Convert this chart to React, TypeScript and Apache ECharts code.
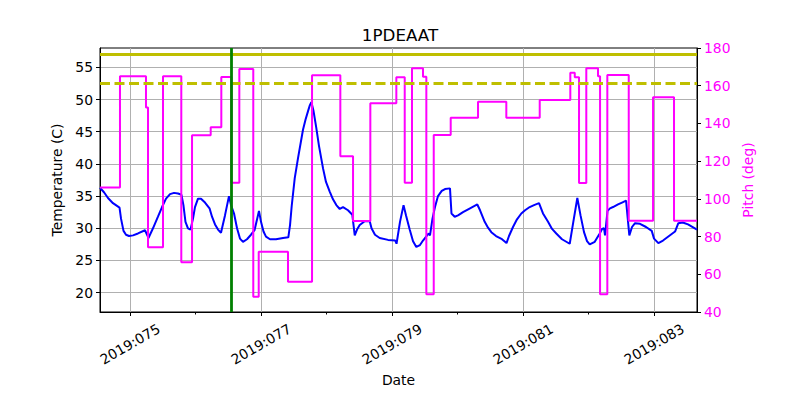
import React, { useEffect, useRef } from "react";
import * as echarts from "echarts";

// Temperature trace: day of year 2019 (fractional) and temperature in C
const tempDay = [
  74.542, 74.603, 74.664, 74.74, 74.84, 74.863, 74.901, 74.939, 74.985, 75.046,
  75.122, 75.229, 75.282, 75.351, 75.427, 75.489, 75.55, 75.611, 75.672, 75.733,
  75.786, 75.817, 75.847, 75.885, 75.924, 75.962, 75.992, 76.038, 76.084, 76.145,
  76.214, 76.252, 76.298, 76.344, 76.389, 76.45, 76.511, 76.542, 76.588, 76.634,
  76.679, 76.725, 76.786, 76.847, 76.901, 76.969, 77.0, 77.038, 77.076, 77.137,
  77.229, 77.336, 77.417, 77.443, 77.469, 77.515, 77.565, 77.641, 77.68, 77.718, 77.745, 77.768,
  77.802, 77.844, 77.885, 77.947, 77.992, 78.049, 78.099, 78.15, 78.202, 78.252,
  78.328, 78.394, 78.431, 78.466, 78.507, 78.583, 78.66, 78.687, 78.74, 78.812,
  78.939, 79.05, 79.069, 79.122, 79.176, 79.214, 79.27, 79.321, 79.371, 79.427,
  79.473, 79.56, 79.58, 79.618, 79.656, 79.702, 79.759, 79.809, 79.885, 79.908,
  79.957, 80.008, 80.084, 80.191, 80.302, 80.344, 80.415, 80.466, 80.516, 80.588,
  80.679, 80.748, 80.786, 80.847, 80.908, 80.974, 81.031, 81.102, 81.168, 81.244,
  81.305, 81.382, 81.443, 81.508, 81.595, 81.713, 81.771, 81.829, 81.878, 81.931,
  81.977, 82.018, 82.095, 82.171, 82.206, 82.237, 82.252, 82.29, 82.328, 82.374,
  82.45, 82.511, 82.573, 82.623, 82.664, 82.71, 82.786, 82.878, 82.965, 83.0,
  83.066, 83.137, 83.229, 83.321, 83.371, 83.438, 83.519, 83.656,
];
const temperature = [
  36.3, 35.6, 34.7, 33.9, 33.2, 31.5, 29.6, 29.0, 28.8, 28.9,
  29.2, 29.7, 28.5, 30.0, 31.8, 33.3, 34.6, 35.3, 35.5, 35.4,
  35.2, 33.5, 31.0, 30.0, 29.8, 31.5, 33.3, 34.6, 34.6, 34.0,
  33.1, 31.8, 30.6, 29.8, 29.3, 32.0, 35.0, 33.6, 32.3, 30.0,
  28.4, 27.9, 28.3, 29.0, 29.7, 32.7, 31.0, 29.5, 28.7, 28.3,
  28.3, 28.5, 28.6, 30.5, 33.5, 37.8, 40.9, 45.3, 46.9, 48.2, 49.1, 49.6,
  48.2, 45.6, 42.8, 39.3, 37.2, 35.7, 34.5, 33.6, 33.0, 33.3,
  32.8, 32.1, 28.9, 29.8, 30.5, 31.1, 31.1, 30.0, 29.0, 28.5,
  28.2, 28.1, 27.6, 31.0, 33.6, 32.0, 29.8, 28.0, 27.1, 27.4,
  28.1, 29.2, 28.9, 31.5, 33.3, 35.0, 35.8, 36.1, 36.2, 32.3,
  31.8, 32.0, 32.5, 33.1, 33.7, 32.8, 31.0, 30.1, 29.4, 28.8,
  28.3, 27.7, 28.8, 30.2, 31.4, 32.3, 32.8, 33.3, 33.6, 33.9,
  32.3, 31.0, 29.9, 29.2, 28.3, 27.6, 31.2, 34.7, 32.0, 29.4,
  28.0, 27.5, 27.9, 29.2, 29.9, 30.0, 28.9, 32.7, 33.1, 33.3,
  33.7, 34.0, 34.3, 28.9, 30.2, 30.8, 30.7, 30.2, 29.6, 28.4,
  27.7, 28.1, 28.8, 29.5, 30.8, 30.9, 30.6, 29.8,
];

// Pitch trace: each value holds until the next change time
const pitchDay = [
  74.542, 74.847, 75.244, 75.275, 75.504, 75.783, 75.947, 76.232, 76.394, 76.547,
  76.669, 76.882, 76.965, 77.412, 77.779, 78.211, 78.405, 78.669, 79.066, 79.194,
  79.305, 79.473, 79.524, 79.637, 79.896, 80.313, 80.745, 81.255, 81.722, 81.79,
  81.855, 81.966, 82.145, 82.176, 82.287, 82.614, 82.985, 83.305, 83.656,
];
const pitch = [
  106, 165, 148.4, 74.3, 165, 66.4, 133.7, 138, 164.6, 108.6,
  168.9, 48.1, 72, 56.1, 165.5, 122.6, 88.3, 150.7, 164.5, 108.6,
  169.2, 164.8, 49.4, 133.9, 143, 151.5, 143, 152.4, 166.9, 164.5,
  108.4, 169.2, 165, 49.4, 165.7, 88.4, 153.9, 88.4, 88.4,
];

const tempTicks = [20, 25, 30, 35, 40, 45, 50, 55];
const dateTicks = [75, 77, 79, 81, 83];
const minorDateTicks = [76, 78, 80, 82];
const planningLimit = 57;
const cautionLimit = 52.5;
const eventDay = 76.547;

const FONT = "DejaVu Sans";

export default function App() {
  const ref = useRef<HTMLDivElement>(null);

  useEffect(() => {
    if (!ref.current) return;
    const chart = echarts.init(ref.current, undefined, { renderer: "svg" });
    const xMin = 74.542;
    const xMax = 83.656;
    const fmt = (v: number) => "2019:" + String(Math.round(v)).padStart(3, "0");

    chart.setOption({
      animation: false,
      backgroundColor: "#ffffff",
      textStyle: { fontFamily: FONT },
      title: {
        text: "1PDEAAT",
        left: "center",
        top: 21,
        textStyle: { fontFamily: FONT, fontSize: 16.7, fontWeight: "normal", color: "#000" },
      },
      grid: {
        left: 100,
        right: 103,
        top: 48,
        bottom: 88,
        show: true,
        borderColor: "#000",
        borderWidth: 1,
        backgroundColor: "transparent",
      },
      xAxis: [
        {
          type: "value",
          min: xMin,
          max: xMax,
          name: "Date",
          nameLocation: "middle",
          nameGap: 60,
          nameTextStyle: { fontFamily: FONT, fontSize: 13.9, color: "#000" },
          axisLine: { show: true, onZero: false, lineStyle: { color: "#000", width: 1 } },
          axisTick: { show: true, customValues: dateTicks, length: 4, lineStyle: { color: "#000" } },
          axisLabel: {
            customValues: dateTicks,
            formatter: fmt,
            rotate: 30,
            align: "center",
            verticalAlign: "middle",
            margin: 32,
            fontFamily: FONT,
            fontSize: 13.9,
            color: "#000",
          },
          splitLine: { show: true, lineStyle: { color: "#b0b0b0", width: 1 } },
        },
        {
          type: "value",
          min: xMin,
          max: xMax,
          position: "bottom",
          axisLine: { show: false },
          axisTick: { show: true, customValues: minorDateTicks, length: 2.5, lineStyle: { color: "#000" } },
          axisLabel: { show: false },
          splitLine: { show: false },
        },
      ],
      yAxis: [
        {
          type: "value",
          min: 17,
          max: 58,
          position: "left",
          name: "Temperature (C)",
          nameLocation: "middle",
          nameRotate: 90,
          nameGap: 33,
          nameTextStyle: { fontFamily: FONT, fontSize: 13.9, color: "#000" },
          axisLine: { show: true, onZero: false, lineStyle: { color: "#000", width: 1 } },
          axisTick: { show: true, customValues: tempTicks, length: 4, lineStyle: { color: "#000" } },
          axisLabel: { customValues: tempTicks, margin: 7, fontFamily: FONT, fontSize: 13.9, color: "#000" },
          splitLine: { show: true, lineStyle: { color: "#b0b0b0", width: 1 } },
        },
        {
          type: "value",
          min: 40,
          max: 180,
          interval: 20,
          position: "right",
          name: "Pitch (deg)",
          nameLocation: "middle",
          nameRotate: 90,
          nameGap: 41,
          nameTextStyle: { fontFamily: FONT, fontSize: 13.9, color: "#ff00ff" },
          axisLine: { show: true, onZero: false, lineStyle: { color: "#000", width: 1 } },
          axisTick: { show: true, length: 4, lineStyle: { color: "#000" } },
          axisLabel: { margin: 7, fontFamily: FONT, fontSize: 13.9, color: "#ff00ff" },
          splitLine: { show: false },
        },
      ],
      series: [
        {
          name: "Temperature",
          type: "line",
          xAxisIndex: 0,
          yAxisIndex: 0,
          data: tempDay.map((d, i) => [d, temperature[i]]),
          showSymbol: false,
          symbol: "none",
          lineStyle: { color: "#0000ff", width: 2 },
          z: 2,
          markLine: {
            silent: true,
            symbol: "none",
            label: { show: false },
            animation: false,
            data: [
              { yAxis: planningLimit, lineStyle: { color: "#bfbf00", width: 2.8, type: "solid" } },
              { yAxis: cautionLimit, lineStyle: { color: "#bfbf00", width: 2.8, type: [10, 4.5] } },
              { xAxis: eventDay, lineStyle: { color: "#008000", width: 2.8, type: "solid" } },
            ],
          },
        },
        {
          name: "Pitch",
          type: "line",
          xAxisIndex: 0,
          yAxisIndex: 1,
          step: "end",
          data: pitchDay.map((d, i) => [d, pitch[i]]),
          showSymbol: false,
          symbol: "none",
          lineStyle: { color: "#ff00ff", width: 2 },
          z: 3,
        },
      ],
    });

    return () => chart.dispose();
  }, []);

  return (
    <div
      ref={ref}
      style={{ position: "fixed", left: 0, top: 0, width: 800, height: 400, background: "#fff" }}
    />
  );
}
